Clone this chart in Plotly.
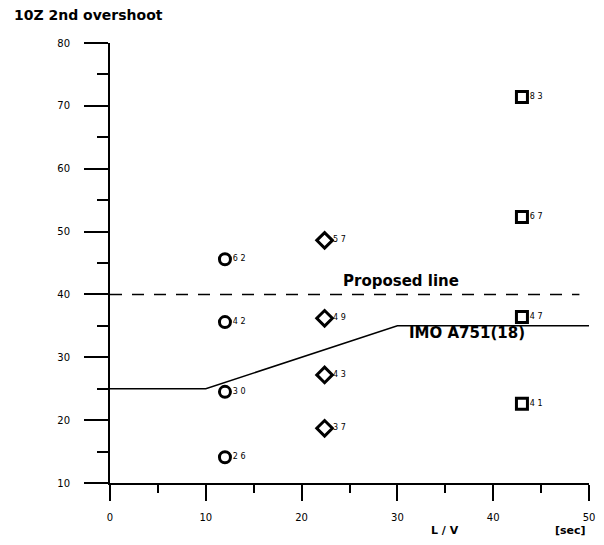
import plotly.graph_objects as go

# ---- data ----
circle_x = [12.0, 12.0, 12.0, 12.0]
circle_y = [45.6, 35.6, 24.5, 14.1]
circle_labels = ["62", "42", "30", "26"]

diamond_x = [22.4, 22.4, 22.4, 22.4]
diamond_y = [48.6, 36.2, 27.2, 18.7]
diamond_labels = ["57", "49", "43", "37"]

square_x = [43.0, 43.0, 43.0, 43.0]
square_y = [71.4, 52.3, 36.4, 22.6]
square_labels = ["83", "67", "47", "41"]

imo_x = [0, 10, 30, 50]
imo_y = [25, 25, 35, 35]

proposed_x = [0, 49]
proposed_y = [40, 40]

x_ticks = [0, 10, 20, 30, 40, 50]
y_ticks = [10, 20, 30, 40, 50, 60, 70, 80]

FONT = "DejaVu Sans"
BOLD = "DejaVu Sans"

def spaced(labels):
    return [" ".join(s) for s in labels]

fig = go.Figure()

fig.add_trace(go.Scatter(x=imo_x, y=imo_y, mode="lines",
                         line=dict(color="black", width=1.5), hoverinfo="skip"))
fig.add_trace(go.Scatter(x=proposed_x, y=proposed_y, mode="lines",
                         line=dict(color="black", width=1.5, dash="12px,10px"), hoverinfo="skip"))

mk_font = dict(family=FONT, size=8, color="black")
fig.add_trace(go.Scatter(x=circle_x, y=circle_y, mode="markers+text",
                         text=spaced(circle_labels), textposition="middle right",
                         textfont=mk_font,
                         marker=dict(symbol="circle-open", size=11, color="black",
                                     line=dict(width=3, color="black"))))
fig.add_trace(go.Scatter(x=diamond_x, y=diamond_y, mode="markers+text",
                         text=spaced(diamond_labels), textposition="middle right",
                         textfont=mk_font,
                         marker=dict(symbol="diamond-open", size=12, color="black",
                                     line=dict(width=3, color="black"))))
fig.add_trace(go.Scatter(x=square_x, y=square_y, mode="markers+text",
                         text=spaced(square_labels), textposition="middle right",
                         textfont=mk_font,
                         marker=dict(symbol="square-open", size=11, color="black",
                                     line=dict(width=3, color="black"))))

fig.update_layout(
    width=596, height=537,
    margin=dict(l=102, r=15, t=35, b=62, pad=0, autoexpand=False),
    paper_bgcolor="white", plot_bgcolor="white",
    showlegend=False,
    font=dict(family=FONT, color="black", size=10),
    xaxis=dict(range=[0, 50], tickvals=x_ticks, showgrid=False, zeroline=False,
               showline=True, linecolor="black", linewidth=2,
               ticks="outside", ticklen=16, tickwidth=2, tickcolor="black",
               ticklabelstandoff=8,
               tickfont=dict(family=FONT, size=10),
               minor=dict(dtick=5, tick0=0, ticks="outside", ticklen=8,
                          tickwidth=1.5, tickcolor="black", showgrid=False)),
    yaxis=dict(range=[10, 80], tickvals=y_ticks, showgrid=False, zeroline=False,
               showline=True, linecolor="black", linewidth=2,
               ticks="outside", ticklen=24, tickwidth=2, tickcolor="black",
               ticklabelstandoff=12,
               tickfont=dict(family=FONT, size=10),
               minor=dict(dtick=5, tick0=0, ticks="outside", ticklen=11,
                          tickwidth=1.5, tickcolor="black", showgrid=False)),
    annotations=[
        dict(text="<b>10Z 2nd overshoot</b>", xref="paper", yref="paper",
             x=-0.2046, y=1.063, xanchor="left", yanchor="middle", showarrow=False,
             font=dict(family=BOLD, size=14, color="black")),
        dict(text="<b>Proposed line</b>", xref="x", yref="y", x=30.4, y=42.2,
             showarrow=False, font=dict(family=BOLD, size=15, color="black")),
        dict(text="<b>IMO A751(18)</b>", xref="x", yref="y", x=37.3, y=33.8,
             showarrow=False, font=dict(family=BOLD, size=15, color="black")),
        dict(text="<b>L / V</b>", xref="x", yref="paper", x=35.0, y=-0.1075,
             xanchor="center", yanchor="middle", showarrow=False,
             font=dict(family=FONT, size=11, color="black")),
        dict(text="<b>[sec]</b>", xref="x", yref="paper", x=48.1, y=-0.1075,
             xanchor="center", yanchor="middle", showarrow=False,
             font=dict(family=BOLD, size=11, color="black")),
    ],
    shapes=[
        dict(type="line", xref="paper", yref="paper", x0=-0.048, x1=0, y0=0, y1=0,
             line=dict(color="black", width=2)),
    ],
)

fig.write_html("out.html")
